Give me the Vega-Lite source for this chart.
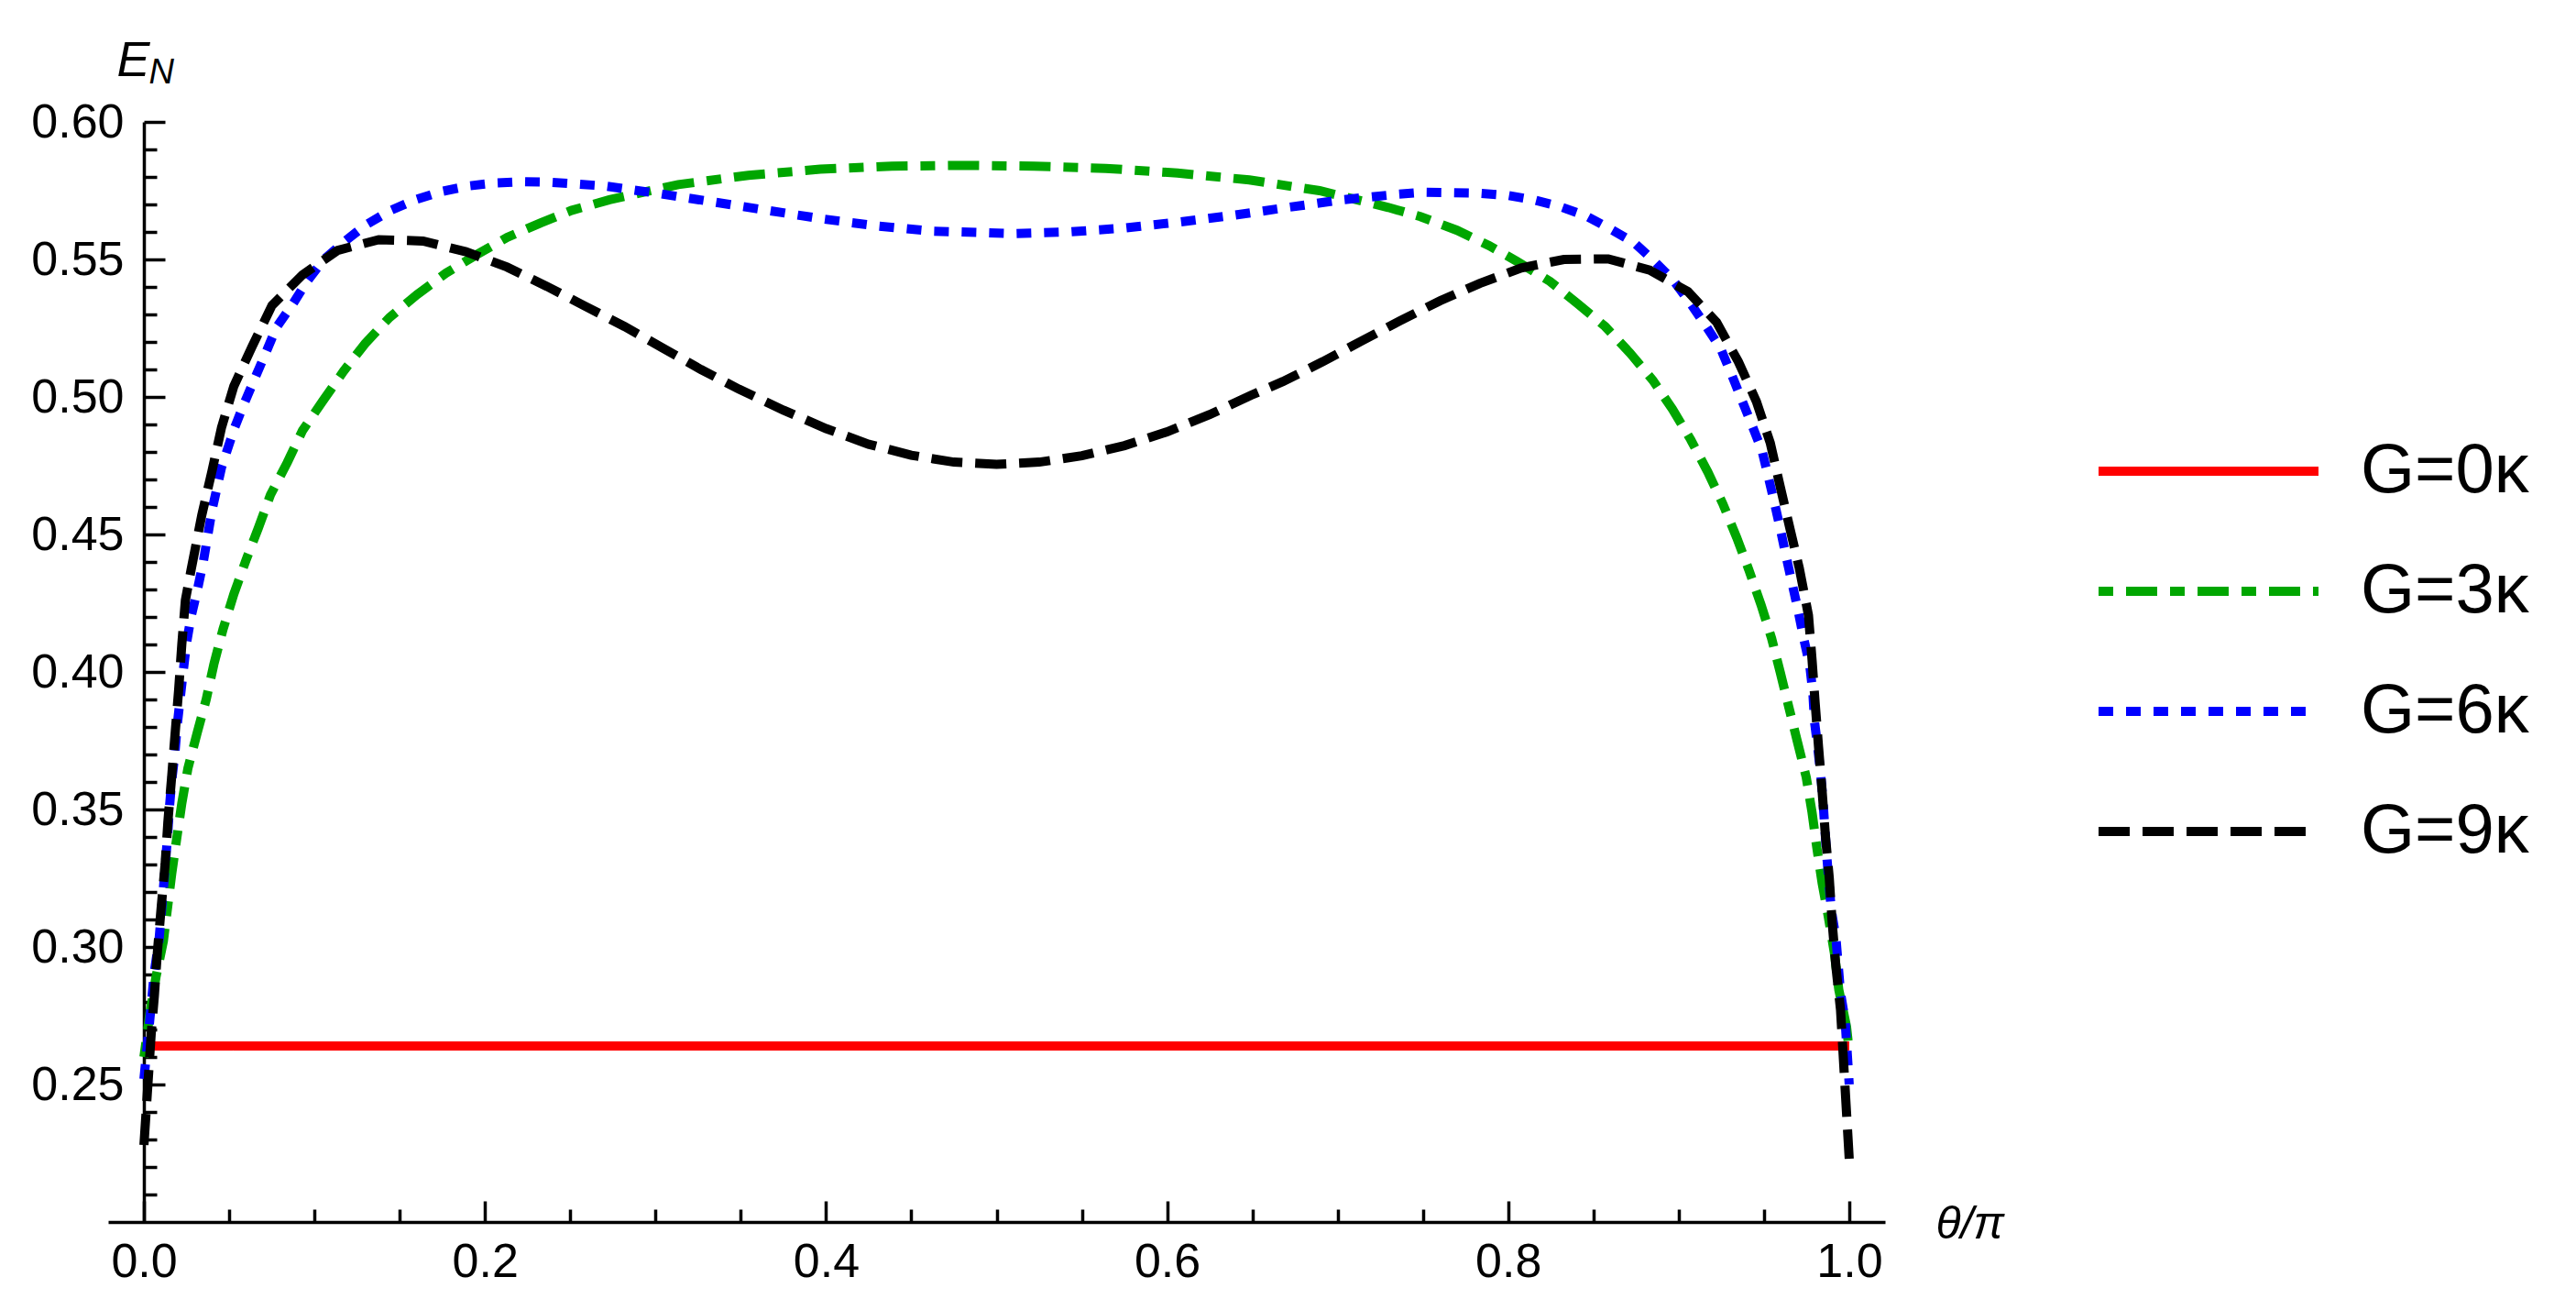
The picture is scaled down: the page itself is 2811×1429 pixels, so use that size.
{
  "$schema": "https://vega.github.io/schema/vega-lite/v6.json",
  "width": 1939,
  "height": 1200,
  "autosize": {"type": "none"},
  "padding": {"left": 118, "top": 133, "right": 754, "bottom": 96},
  "background": "white",
  "data": {
    "values": [
      {"t": 0.0, "E": 0.264, "G": "G=0κ"},
      {"t": 1.0, "E": 0.264, "G": "G=0κ"},

      {"t": 0.0, "E": 0.260, "G": "G=3κ"},
      {"t": 0.0034, "E": 0.2756, "G": "G=3κ"},
      {"t": 0.007, "E": 0.2889, "G": "G=3κ"},
      {"t": 0.0114, "E": 0.3022, "G": "G=3κ"},
      {"t": 0.0141, "E": 0.3156, "G": "G=3κ"},
      {"t": 0.0163, "E": 0.3267, "G": "G=3κ"},
      {"t": 0.0192, "E": 0.3394, "G": "G=3κ"},
      {"t": 0.0222, "E": 0.3522, "G": "G=3κ"},
      {"t": 0.0258, "E": 0.365, "G": "G=3κ"},
      {"t": 0.0312, "E": 0.3778, "G": "G=3κ"},
      {"t": 0.0365, "E": 0.39, "G": "G=3κ"},
      {"t": 0.041, "E": 0.4028, "G": "G=3κ"},
      {"t": 0.0464, "E": 0.4156, "G": "G=3κ"},
      {"t": 0.0527, "E": 0.4283, "G": "G=3κ"},
      {"t": 0.0598, "E": 0.4406, "G": "G=3κ"},
      {"t": 0.067, "E": 0.4522, "G": "G=3κ"},
      {"t": 0.0742, "E": 0.4644, "G": "G=3κ"},
      {"t": 0.084, "E": 0.4761, "G": "G=3κ"},
      {"t": 0.093, "E": 0.4878, "G": "G=3κ"},
      {"t": 0.1046, "E": 0.4983, "G": "G=3κ"},
      {"t": 0.1171, "E": 0.5094, "G": "G=3κ"},
      {"t": 0.1297, "E": 0.5194, "G": "G=3κ"},
      {"t": 0.144, "E": 0.5289, "G": "G=3κ"},
      {"t": 0.1601, "E": 0.5372, "G": "G=3κ"},
      {"t": 0.1771, "E": 0.545, "G": "G=3κ"},
      {"t": 0.195, "E": 0.5517, "G": "G=3κ"},
      {"t": 0.213, "E": 0.558, "G": "G=3κ"},
      {"t": 0.2327, "E": 0.5633, "G": "G=3κ"},
      {"t": 0.2506, "E": 0.5678, "G": "G=3κ"},
      {"t": 0.273, "E": 0.5717, "G": "G=3κ"},
      {"t": 0.3133, "E": 0.5772, "G": "G=3κ"},
      {"t": 0.3545, "E": 0.5806, "G": "G=3κ"},
      {"t": 0.3966, "E": 0.5828, "G": "G=3κ"},
      {"t": 0.4386, "E": 0.5839, "G": "G=3κ"},
      {"t": 0.4798, "E": 0.5842, "G": "G=3κ"},
      {"t": 0.5219, "E": 0.5839, "G": "G=3κ"},
      {"t": 0.564, "E": 0.5831, "G": "G=3κ"},
      {"t": 0.6061, "E": 0.5814, "G": "G=3κ"},
      {"t": 0.6482, "E": 0.5789, "G": "G=3κ"},
      {"t": 0.6894, "E": 0.575, "G": "G=3κ"},
      {"t": 0.7297, "E": 0.5689, "G": "G=3κ"},
      {"t": 0.7485, "E": 0.5656, "G": "G=3κ"},
      {"t": 0.77, "E": 0.5606, "G": "G=3κ"},
      {"t": 0.7888, "E": 0.555, "G": "G=3κ"},
      {"t": 0.8049, "E": 0.5494, "G": "G=3κ"},
      {"t": 0.8246, "E": 0.542, "G": "G=3κ"},
      {"t": 0.8408, "E": 0.5339, "G": "G=3κ"},
      {"t": 0.8569, "E": 0.5256, "G": "G=3κ"},
      {"t": 0.8713, "E": 0.5161, "G": "G=3κ"},
      {"t": 0.8848, "E": 0.5061, "G": "G=3κ"},
      {"t": 0.8963, "E": 0.4956, "G": "G=3κ"},
      {"t": 0.9071, "E": 0.4844, "G": "G=3κ"},
      {"t": 0.917, "E": 0.4728, "G": "G=3κ"},
      {"t": 0.9259, "E": 0.4611, "G": "G=3κ"},
      {"t": 0.934, "E": 0.4489, "G": "G=3κ"},
      {"t": 0.9411, "E": 0.4372, "G": "G=3κ"},
      {"t": 0.9483, "E": 0.4244, "G": "G=3κ"},
      {"t": 0.9545, "E": 0.4122, "G": "G=3κ"},
      {"t": 0.9595, "E": 0.4, "G": "G=3κ"},
      {"t": 0.9647, "E": 0.3869, "G": "G=3κ"},
      {"t": 0.9697, "E": 0.3744, "G": "G=3κ"},
      {"t": 0.9748, "E": 0.3617, "G": "G=3κ"},
      {"t": 0.9782, "E": 0.3489, "G": "G=3κ"},
      {"t": 0.981, "E": 0.3361, "G": "G=3κ"},
      {"t": 0.9841, "E": 0.3233, "G": "G=3κ"},
      {"t": 0.9877, "E": 0.3111, "G": "G=3κ"},
      {"t": 0.9913, "E": 0.2978, "G": "G=3κ"},
      {"t": 0.9939, "E": 0.2844, "G": "G=3κ"},
      {"t": 0.9984, "E": 0.2711, "G": "G=3κ"},
      {"t": 1.0, "E": 0.262, "G": "G=3κ"},

      {"t": 0.0, "E": 0.252, "G": "G=6κ"},
      {"t": 0.0034, "E": 0.2733, "G": "G=6κ"},
      {"t": 0.0061, "E": 0.291, "G": "G=6κ"},
      {"t": 0.0088, "E": 0.3022, "G": "G=6κ"},
      {"t": 0.0114, "E": 0.3211, "G": "G=6κ"},
      {"t": 0.0138, "E": 0.34, "G": "G=6κ"},
      {"t": 0.015, "E": 0.3511, "G": "G=6κ"},
      {"t": 0.0163, "E": 0.3606, "G": "G=6κ"},
      {"t": 0.0181, "E": 0.37, "G": "G=6κ"},
      {"t": 0.0195, "E": 0.3806, "G": "G=6κ"},
      {"t": 0.0213, "E": 0.3906, "G": "G=6κ"},
      {"t": 0.0231, "E": 0.4006, "G": "G=6κ"},
      {"t": 0.025, "E": 0.4106, "G": "G=6κ"},
      {"t": 0.0276, "E": 0.42, "G": "G=6κ"},
      {"t": 0.0314, "E": 0.43, "G": "G=6κ"},
      {"t": 0.0348, "E": 0.44, "G": "G=6κ"},
      {"t": 0.04, "E": 0.4591, "G": "G=6κ"},
      {"t": 0.0455, "E": 0.4744, "G": "G=6κ"},
      {"t": 0.0532, "E": 0.4889, "G": "G=6κ"},
      {"t": 0.0589, "E": 0.4978, "G": "G=6κ"},
      {"t": 0.0652, "E": 0.507, "G": "G=6κ"},
      {"t": 0.0715, "E": 0.5161, "G": "G=6κ"},
      {"t": 0.0777, "E": 0.5253, "G": "G=6κ"},
      {"t": 0.0872, "E": 0.5337, "G": "G=6κ"},
      {"t": 0.0956, "E": 0.542, "G": "G=6κ"},
      {"t": 0.1055, "E": 0.55, "G": "G=6κ"},
      {"t": 0.118, "E": 0.5567, "G": "G=6κ"},
      {"t": 0.1297, "E": 0.5624, "G": "G=6κ"},
      {"t": 0.1446, "E": 0.5678, "G": "G=6κ"},
      {"t": 0.1592, "E": 0.5717, "G": "G=6κ"},
      {"t": 0.1745, "E": 0.5747, "G": "G=6κ"},
      {"t": 0.1902, "E": 0.5767, "G": "G=6κ"},
      {"t": 0.2058, "E": 0.5778, "G": "G=6κ"},
      {"t": 0.2223, "E": 0.5783, "G": "G=6κ"},
      {"t": 0.2381, "E": 0.5781, "G": "G=6κ"},
      {"t": 0.2542, "E": 0.5774, "G": "G=6κ"},
      {"t": 0.2703, "E": 0.5767, "G": "G=6κ"},
      {"t": 0.3025, "E": 0.5739, "G": "G=6κ"},
      {"t": 0.3339, "E": 0.5709, "G": "G=6κ"},
      {"t": 0.3661, "E": 0.5678, "G": "G=6κ"},
      {"t": 0.3984, "E": 0.5647, "G": "G=6κ"},
      {"t": 0.4297, "E": 0.5622, "G": "G=6κ"},
      {"t": 0.462, "E": 0.5603, "G": "G=6κ"},
      {"t": 0.4942, "E": 0.5597, "G": "G=6κ"},
      {"t": 0.5103, "E": 0.5594, "G": "G=6κ"},
      {"t": 0.5425, "E": 0.56, "G": "G=6κ"},
      {"t": 0.5748, "E": 0.5614, "G": "G=6κ"},
      {"t": 0.607, "E": 0.5636, "G": "G=6κ"},
      {"t": 0.6393, "E": 0.5661, "G": "G=6κ"},
      {"t": 0.6706, "E": 0.5689, "G": "G=6κ"},
      {"t": 0.7028, "E": 0.5717, "G": "G=6κ"},
      {"t": 0.7351, "E": 0.5737, "G": "G=6κ"},
      {"t": 0.7503, "E": 0.5744, "G": "G=6κ"},
      {"t": 0.7825, "E": 0.5741, "G": "G=6κ"},
      {"t": 0.7995, "E": 0.5733, "G": "G=6κ"},
      {"t": 0.8148, "E": 0.5717, "G": "G=6κ"},
      {"t": 0.8305, "E": 0.5692, "G": "G=6κ"},
      {"t": 0.8458, "E": 0.5658, "G": "G=6κ"},
      {"t": 0.8599, "E": 0.5611, "G": "G=6κ"},
      {"t": 0.8739, "E": 0.5561, "G": "G=6κ"},
      {"t": 0.8856, "E": 0.5494, "G": "G=6κ"},
      {"t": 0.8963, "E": 0.5428, "G": "G=6κ"},
      {"t": 0.9065, "E": 0.5344, "G": "G=6κ"},
      {"t": 0.916, "E": 0.5258, "G": "G=6κ"},
      {"t": 0.9246, "E": 0.5176, "G": "G=6κ"},
      {"t": 0.9309, "E": 0.5083, "G": "G=6κ"},
      {"t": 0.937, "E": 0.4989, "G": "G=6κ"},
      {"t": 0.9429, "E": 0.4898, "G": "G=6κ"},
      {"t": 0.9488, "E": 0.4806, "G": "G=6κ"},
      {"t": 0.9527, "E": 0.4706, "G": "G=6κ"},
      {"t": 0.9563, "E": 0.4611, "G": "G=6κ"},
      {"t": 0.9599, "E": 0.4511, "G": "G=6κ"},
      {"t": 0.9631, "E": 0.4417, "G": "G=6κ"},
      {"t": 0.9697, "E": 0.4233, "G": "G=6κ"},
      {"t": 0.9733, "E": 0.4122, "G": "G=6κ"},
      {"t": 0.9769, "E": 0.4022, "G": "G=6κ"},
      {"t": 0.9787, "E": 0.3922, "G": "G=6κ"},
      {"t": 0.9796, "E": 0.3822, "G": "G=6κ"},
      {"t": 0.9814, "E": 0.3733, "G": "G=6κ"},
      {"t": 0.9832, "E": 0.3633, "G": "G=6κ"},
      {"t": 0.9846, "E": 0.3533, "G": "G=6κ"},
      {"t": 0.9868, "E": 0.3333, "G": "G=6κ"},
      {"t": 0.9895, "E": 0.3133, "G": "G=6κ"},
      {"t": 0.9922, "E": 0.3033, "G": "G=6κ"},
      {"t": 0.9949, "E": 0.2833, "G": "G=6κ"},
      {"t": 0.9976, "E": 0.2733, "G": "G=6κ"},
      {"t": 1.0, "E": 0.25, "G": "G=6κ"},

      {"t": 0.0, "E": 0.228, "G": "G=9κ"},
      {"t": 0.0043, "E": 0.2689, "G": "G=9κ"},
      {"t": 0.0061, "E": 0.2822, "G": "G=9κ"},
      {"t": 0.0079, "E": 0.2983, "G": "G=9κ"},
      {"t": 0.0102, "E": 0.315, "G": "G=9κ"},
      {"t": 0.0124, "E": 0.33, "G": "G=9κ"},
      {"t": 0.0141, "E": 0.346, "G": "G=9κ"},
      {"t": 0.0163, "E": 0.3622, "G": "G=9κ"},
      {"t": 0.0183, "E": 0.3778, "G": "G=9κ"},
      {"t": 0.0204, "E": 0.3939, "G": "G=9κ"},
      {"t": 0.0222, "E": 0.41, "G": "G=9κ"},
      {"t": 0.0243, "E": 0.4261, "G": "G=9κ"},
      {"t": 0.0276, "E": 0.437, "G": "G=9κ"},
      {"t": 0.0339, "E": 0.457, "G": "G=9κ"},
      {"t": 0.0398, "E": 0.4728, "G": "G=9κ"},
      {"t": 0.0455, "E": 0.4889, "G": "G=9κ"},
      {"t": 0.0527, "E": 0.5039, "G": "G=9κ"},
      {"t": 0.0634, "E": 0.5183, "G": "G=9κ"},
      {"t": 0.0751, "E": 0.5333, "G": "G=9κ"},
      {"t": 0.093, "E": 0.5444, "G": "G=9κ"},
      {"t": 0.1136, "E": 0.5533, "G": "G=9κ"},
      {"t": 0.1377, "E": 0.5572, "G": "G=9κ"},
      {"t": 0.1637, "E": 0.5567, "G": "G=9κ"},
      {"t": 0.1888, "E": 0.5528, "G": "G=9κ"},
      {"t": 0.213, "E": 0.5472, "G": "G=9κ"},
      {"t": 0.2363, "E": 0.5402, "G": "G=9κ"},
      {"t": 0.2578, "E": 0.5333, "G": "G=9κ"},
      {"t": 0.2819, "E": 0.5256, "G": "G=9κ"},
      {"t": 0.3042, "E": 0.5178, "G": "G=9κ"},
      {"t": 0.3266, "E": 0.51, "G": "G=9κ"},
      {"t": 0.349, "E": 0.5028, "G": "G=9κ"},
      {"t": 0.375, "E": 0.4952, "G": "G=9κ"},
      {"t": 0.40, "E": 0.4885, "G": "G=9κ"},
      {"t": 0.425, "E": 0.4828, "G": "G=9κ"},
      {"t": 0.45, "E": 0.4788, "G": "G=9κ"},
      {"t": 0.475, "E": 0.4763, "G": "G=9κ"},
      {"t": 0.50, "E": 0.4755, "G": "G=9κ"},
      {"t": 0.525, "E": 0.4763, "G": "G=9κ"},
      {"t": 0.55, "E": 0.4786, "G": "G=9κ"},
      {"t": 0.575, "E": 0.4823, "G": "G=9κ"},
      {"t": 0.60, "E": 0.4873, "G": "G=9κ"},
      {"t": 0.625, "E": 0.4936, "G": "G=9κ"},
      {"t": 0.6491, "E": 0.5006, "G": "G=9κ"},
      {"t": 0.6679, "E": 0.5056, "G": "G=9κ"},
      {"t": 0.6912, "E": 0.5128, "G": "G=9κ"},
      {"t": 0.7136, "E": 0.5202, "G": "G=9κ"},
      {"t": 0.7369, "E": 0.5278, "G": "G=9κ"},
      {"t": 0.7602, "E": 0.535, "G": "G=9κ"},
      {"t": 0.7834, "E": 0.5413, "G": "G=9κ"},
      {"t": 0.8076, "E": 0.5469, "G": "G=9κ"},
      {"t": 0.8327, "E": 0.55, "G": "G=9κ"},
      {"t": 0.8587, "E": 0.5502, "G": "G=9κ"},
      {"t": 0.883, "E": 0.5461, "G": "G=9κ"},
      {"t": 0.9054, "E": 0.5383, "G": "G=9κ"},
      {"t": 0.9222, "E": 0.5272, "G": "G=9κ"},
      {"t": 0.935, "E": 0.5128, "G": "G=9κ"},
      {"t": 0.9456, "E": 0.4983, "G": "G=9κ"},
      {"t": 0.9537, "E": 0.4833, "G": "G=9κ"},
      {"t": 0.9596, "E": 0.4672, "G": "G=9κ"},
      {"t": 0.9654, "E": 0.4517, "G": "G=9κ"},
      {"t": 0.9707, "E": 0.4378, "G": "G=9κ"},
      {"t": 0.9761, "E": 0.4206, "G": "G=9κ"},
      {"t": 0.9782, "E": 0.4044, "G": "G=9κ"},
      {"t": 0.98, "E": 0.3889, "G": "G=9κ"},
      {"t": 0.982, "E": 0.3728, "G": "G=9κ"},
      {"t": 0.9841, "E": 0.3567, "G": "G=9κ"},
      {"t": 0.9861, "E": 0.34, "G": "G=9κ"},
      {"t": 0.9883, "E": 0.325, "G": "G=9κ"},
      {"t": 0.99, "E": 0.3089, "G": "G=9κ"},
      {"t": 0.9922, "E": 0.2928, "G": "G=9κ"},
      {"t": 0.9949, "E": 0.2772, "G": "G=9κ"},
      {"t": 1.0, "E": 0.223, "G": "G=9κ"}
    ]
  },
  "encoding": {
    "color": {
      "field": "G",
      "type": "nominal",
      "scale": {
        "domain": ["G=0κ", "G=3κ", "G=6κ", "G=9κ"],
        "range": ["#ff0000", "#00a600", "#0000ff", "#000000"]
      },
      "legend": {
        "title": null,
        "orient": "none",
        "legendX": 2254,
        "legendY": 343,
        "padding": 0,
        "symbolType": "M-4,0H4",
        "symbolSize": 3600,
        "symbolStrokeWidth": 10,
        "labelFont": "Liberation Sans",
        "labelFontSize": 76,
        "labelColor": "black",
        "labelOffset": 128,
        "labelLimit": 0,
        "rowPadding": 55
      }
    },
    "strokeDash": {
      "field": "G",
      "type": "nominal",
      "scale": {
        "domain": ["G=0κ", "G=3κ", "G=6κ", "G=9κ"],
        "range": [[1, 0], [16, 14, 34, 14], [16, 14], [34, 14]]
      }
    }
  },
  "layer": [
    {
      "transform": [{"filter": "datum.G === 'G=0κ'"}],
      "mark": {"type": "line", "strokeWidth": 10, "strokeCap": "butt"},
      "encoding": {
        "x": {
          "field": "t",
          "type": "quantitative",
          "scale": {"domain": [-0.021, 1.021], "nice": false, "zero": false},
          "axis": {
            "orient": "bottom",
            "values": [0, 0.2, 0.4, 0.6, 0.8, 1.0],
            "format": ".1f",
            "tickSize": -23,
            "labelPadding": 41,
            "labelFlush": false,
            "labelOverlap": false,
            "title": "θ/π",
            "titleFont": "Liberation Sans",
            "titleFontSize": 50,
            "titleFontStyle": "italic",
            "titleFontWeight": "normal",
            "titleAlign": "left",
            "titleBaseline": "middle",
            "titleAnchor": "start",
            "titleX": 1994,
            "titleY": 2
          }
        },
        "y": {
          "field": "E",
          "type": "quantitative",
          "scale": {"domain": [0.2, 0.6], "nice": false, "zero": false},
          "axis": {
            "orient": "left",
            "offset": -39,
            "values": [0.25, 0.3, 0.35, 0.4, 0.45, 0.5, 0.55, 0.6],
            "format": ".2f",
            "tickSize": -23,
            "labelPadding": 45,
            "labelFlush": false,
            "labelOverlap": false,
            "title": "E",
            "titleFont": "Liberation Sans",
            "titleFontSize": 54,
            "titleFontStyle": "italic",
            "titleFontWeight": "normal",
            "titleAngle": 0,
            "titleAlign": "left",
            "titleBaseline": "alphabetic",
            "titleAnchor": "start",
            "titleX": -30,
            "titleY": -51
          }
        }
      }
    },
    {
      "transform": [{"filter": "datum.G !== 'G=0κ'"}],
      "mark": {"type": "line", "strokeWidth": 10, "strokeCap": "butt"},
      "encoding": {
        "x": {
          "field": "t",
          "type": "quantitative",
          "axis": {
            "orient": "bottom",
            "values": [0.05, 0.1, 0.15, 0.25, 0.3, 0.35, 0.45, 0.5, 0.55, 0.65, 0.7, 0.75, 0.85, 0.9, 0.95],
            "tickSize": -14,
            "labels": false,
            "domain": false,
            "title": null
          }
        },
        "y": {
          "field": "E",
          "type": "quantitative",
          "axis": {
            "orient": "left",
            "offset": -39,
            "values": [0.21, 0.22, 0.23, 0.24, 0.26, 0.27, 0.28, 0.29, 0.31, 0.32, 0.33, 0.34, 0.36, 0.37, 0.38, 0.39, 0.41, 0.42, 0.43, 0.44, 0.46, 0.47, 0.48, 0.49, 0.51, 0.52, 0.53, 0.54, 0.56, 0.57, 0.58, 0.59],
            "tickSize": -14,
            "labels": false,
            "domain": false,
            "title": "N",
            "titleFont": "Liberation Sans",
            "titleFontSize": 38,
            "titleFontStyle": "italic",
            "titleFontWeight": "normal",
            "titleAngle": 0,
            "titleAlign": "left",
            "titleBaseline": "alphabetic",
            "titleAnchor": "start",
            "titleX": 5,
            "titleY": -43
          }
        }
      }
    }
  ],
  "resolve": {"axis": {"x": "independent", "y": "independent"}},
  "config": {
    "view": {"stroke": null},
    "font": "Liberation Sans",
    "axis": {
      "grid": false,
      "domainColor": "black",
      "domainWidth": 3.5,
      "tickColor": "black",
      "tickWidth": 3.5,
      "labelColor": "black",
      "labelFont": "Liberation Sans",
      "labelFontSize": 52,
      "titleColor": "black"
    }
  }
}
